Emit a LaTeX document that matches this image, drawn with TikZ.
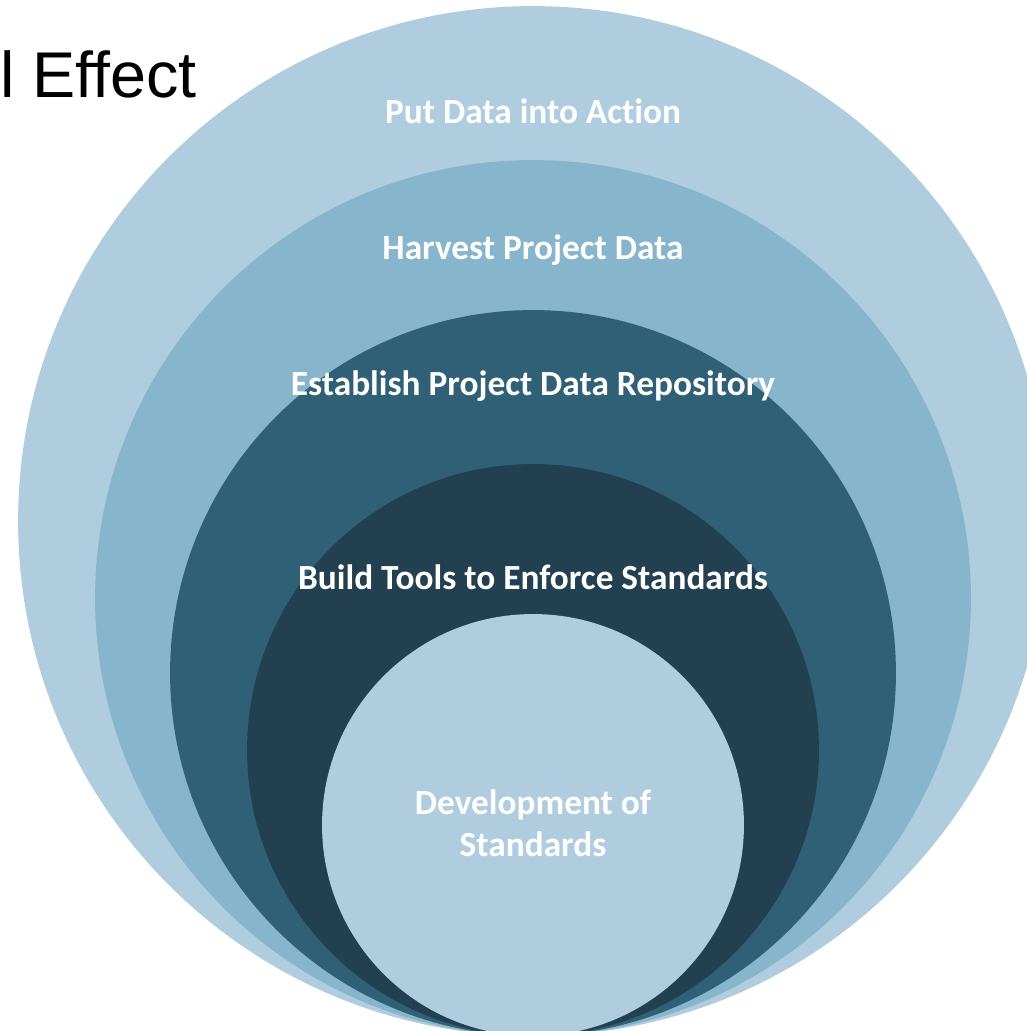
\documentclass[tikz,border=0pt]{standalone}
\usepackage{fontspec}
\setmainfont{Carlito}[Ligatures=NoCommon]
\newfontfamily\headfont{Liberation Sans}
\usepackage{xcolor}
\usetikzlibrary{positioning}

\definecolor{ringpale}{RGB}{175,205,222}
\definecolor{ringmid}{RGB}{135,181,204}
\definecolor{ringdeep}{RGB}{47,96,118}
\definecolor{ringdark}{RGB}{34,64,79}

\tikzset{
  ring/.style={circle, inner sep=0pt, draw=none},
  layer/.style={text=white, font=\fontsize{20.1}{23.8}\selectfont\bfseries, inner sep=0pt}
}

\begin{document}
\begin{tikzpicture}[x=0.02cm,y=-0.02cm]
        \useasboundingbox (0,0) rectangle (1027,1031);
        \clip (0,0) rectangle (1027,1031);

        % Nested rings, all touching at the bottom
        \node[ring, fill=ringpale, minimum size=20.6cm] (action) at (533,521) {};
        \node[ring, fill=ringmid, minimum size=17.52cm] (harvest) at (533,598) {};
        \node[ring, fill=ringdeep, minimum size=14.52cm] (repo) at (533,673) {};
        \node[ring, fill=ringdark, minimum size=11.44cm] (tools) at (533,750) {};
        \node[ring, fill=ringpale, minimum size=8.44cm] (core) at (533,825) {};

        % Title, cut at the left
        \node[anchor=base west, inner sep=0pt, font=\headfont\fontsize{36.8}{40}\selectfont] (title) at (0,97) {l Effect};

        % Ring labels
        \node[layer, anchor=base] (actionlbl) at (533,123) {Put Data into Action};
        \node[layer, anchor=base] (harvestlbl) at (533,259) {Harvest Project Data};
        \node[layer, anchor=base] (repolbl) at (533,395) {Establish Project Data Repository};
        \node[layer, anchor=base] (toolslbl) at (533,589) {Build Tools to Enforce Standards};
        \node[layer, align=center] (corelbl) at (533,823) {Development of\\Standards};
    \end{tikzpicture}
\end{document}
